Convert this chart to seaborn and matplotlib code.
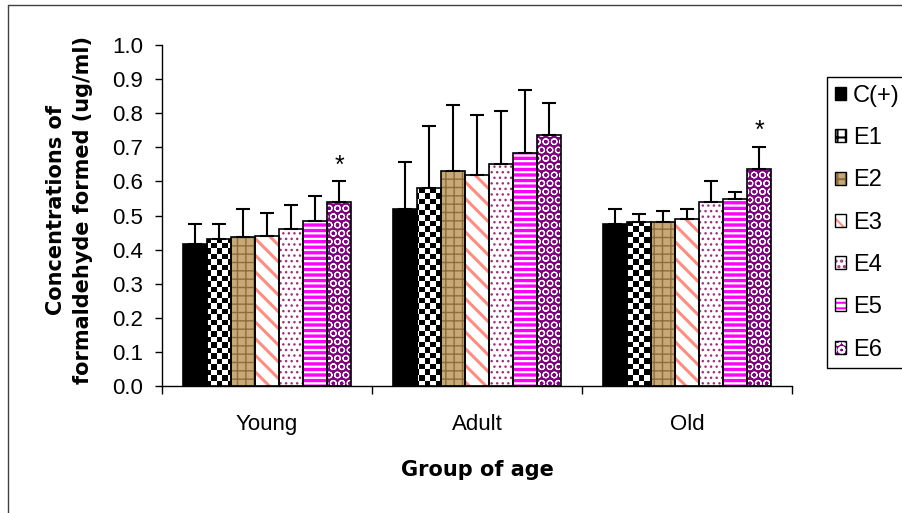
import numpy as np
import pandas as pd
import matplotlib
matplotlib.use("Agg")
import matplotlib.pyplot as plt
from matplotlib.patches import Rectangle, Patch
from matplotlib.lines import Line2D
from matplotlib.ticker import FormatStrFormatter
import seaborn as sns

groups = ["Young", "Adult", "Old"]
treatments = ["C(+)", "E1", "E2", "E3", "E4", "E5", "E6"]

# mean concentration, one value per group (Young, Adult, Old)
c_pos = [0.416, 0.520, 0.476]
e1 = [0.431, 0.580, 0.480]
e2 = [0.436, 0.630, 0.480]
e3 = [0.441, 0.618, 0.491]
e4 = [0.459, 0.652, 0.541]
e5 = [0.485, 0.684, 0.547]
e6 = [0.541, 0.735, 0.635]

# upper error bar (SD)
c_pos_sd = [0.059, 0.137, 0.043]
e1_sd = [0.044, 0.182, 0.023]
e2_sd = [0.083, 0.193, 0.033]
e3_sd = [0.067, 0.178, 0.028]
e4_sd = [0.072, 0.154, 0.061]
e5_sd = [0.073, 0.183, 0.022]
e6_sd = [0.060, 0.094, 0.067]

# significant bars (treatment, group)
stars = [("E6", "Young"), ("E6", "Old")]

means = [c_pos, e1, e2, e3, e4, e5, e6]
sds = [c_pos_sd, e1_sd, e2_sd, e3_sd, e4_sd, e5_sd, e6_sd]

df = pd.DataFrame({
    "group": groups * len(treatments),
    "treatment": np.repeat(treatments, len(groups)),
    "value": np.concatenate(means),
})
sd_lookup = {t: s for t, s in zip(treatments, sds)}

# facecolor, hatch, hatch colour, hatch linewidth
styles = {
    "C(+)": ("black", None, "black", 1.0),
    "E1": ("white", "checker", "black", 1.0),
    "E2": ("#c9a877", "++", "#8c6d3f", 1.0),
    "E3": ("white", "\\\\", "#ff8c80", 2.2),
    "E4": ("white", "...", "#a0307a", 1.0),
    "E5": ("white", "---", "#ff00ff", 2.4),
    "E6": ("#800080", "OO", "white", 0.8),
}

sns.set_style("ticks")
plt.rcParams["font.family"] = ["Liberation Sans", "DejaVu Sans"]
plt.rcParams["hatch.linewidth"] = 1.5
plt.rcParams["text.color"] = "black"
plt.rcParams["axes.labelcolor"] = "black"
plt.rcParams["xtick.color"] = "black"
plt.rcParams["ytick.color"] = "black"

fig = plt.figure(figsize=(9.02, 5.13), dpi=100)
ax = fig.add_axes([162 / 902, 1 - 386 / 513, 630 / 902, 341 / 513])

sns.barplot(data=df, x="group", y="value", hue="treatment", order=groups,
            hue_order=treatments, errorbar=None, width=0.8, legend=False, ax=ax)

# checkerboard image used for E1 bars
cell_x, cell_y = 0.026, 0.016
checker = np.indices((int(round(1 / cell_y)), int(round(3 / cell_x)))).sum(axis=0) % 2

for t, cont in zip(treatments, ax.containers):
    fc, hatch, hc, hlw = styles[t]
    for p in cont.patches:
        x0, w, h = p.get_x(), p.get_width(), p.get_height()
        gi = int(round(x0 + w / 2))
        p.set_zorder(1.5)
        if hatch == "checker":
            p.set_facecolor("white")
            p.set_linewidth(0)
            im = ax.imshow(checker, cmap="gray", extent=(-0.5, 2.5, 0, 1), origin="lower",
                           aspect="auto", interpolation="nearest", zorder=1.6)
            im.set_clip_path(p)
        else:
            p.set_facecolor(fc)
            p.set_edgecolor(hc)
            p.set_linewidth(0)
            if hatch:
                p.set_hatch(hatch)
                if hasattr(p, "set_hatch_linewidth"):
                    p.set_hatch_linewidth(hlw)
        ax.add_patch(Rectangle((x0, 0), w, h, fill=False, edgecolor="black", lw=1.2, zorder=2))
        ax.errorbar(x0 + w / 2, h, yerr=[[0], [sd_lookup[t][gi]]], fmt="none", ecolor="black",
                    elinewidth=1.5, capsize=4.7, capthick=1.5, zorder=3)
        if (t, groups[gi]) in stars:
            ax.annotate("*", (x0 + w / 2, h + sd_lookup[t][gi]), xytext=(0, 6),
                        textcoords="offset points", ha="center", va="baseline", fontsize=18)

ax.set_xlim(-0.5, 2.5)
ax.set_ylim(0, 1.0)
ax.set_yticks(np.arange(0, 1.05, 0.1))
ax.yaxis.set_major_formatter(FormatStrFormatter("%.1f"))
ax.set_xticks(range(len(groups)))
ax.set_xticklabels(groups)
ax.set_xticks(np.arange(-0.5, len(groups), 1.0), minor=True)
ax.tick_params(axis="x", which="major", length=0, pad=20, labelsize=16)
ax.tick_params(axis="x", which="minor", length=6, width=1, direction="out", color="black")
ax.tick_params(axis="y", length=5, width=1, pad=8.6, labelsize=16, color="black")
sns.despine(ax=ax)
for s in ["left", "bottom"]:
    ax.spines[s].set_color("black")
    ax.spines[s].set_linewidth(1)

ax.set_xlabel("Group of age", fontsize=15, fontweight="bold", family="DejaVu Sans", labelpad=18.5)
ax.set_ylabel("Concentrations of\nformaldehyde formed (ug/ml)", fontsize=15, fontweight="bold",
              family="DejaVu Sans", linespacing=1.4)
ax.yaxis.set_label_coords(-0.110, 0.516)

handles = []
for t in treatments:
    fc, hatch, hc, hlw = styles[t]
    if hatch == "checker":
        fill = Patch(facecolor="white", hatch="++", edgecolor="black", lw=0)
    else:
        fill = Patch(facecolor=fc, hatch=hatch, edgecolor=hc, lw=0)
    handles.append((fill, Patch(fill=False, edgecolor="black", lw=1)))

leg = ax.legend(handles, treatments, loc="upper left", bbox_to_anchor=(827 / 902, 1 - 77 / 513),
                bbox_transform=fig.transFigure, prop={"family": "Liberation Sans", "size": 17},
                frameon=True, fancybox=False, framealpha=1, edgecolor="black", borderpad=0.33,
                labelspacing=0.86, handlelength=0.47, handleheight=0.47, handletextpad=0.3,
                borderaxespad=0)
leg.get_frame().set_linewidth(1.0)

# outer chart frame
fig.add_artist(Line2D([8 / 902, 8 / 902], [0, 1 - 5 / 513], transform=fig.transFigure, color="#404040", lw=1))
fig.add_artist(Line2D([8 / 902, 1], [1 - 5 / 513, 1 - 5 / 513], transform=fig.transFigure, color="#404040", lw=1))

fig.savefig("out.png", dpi=100)
